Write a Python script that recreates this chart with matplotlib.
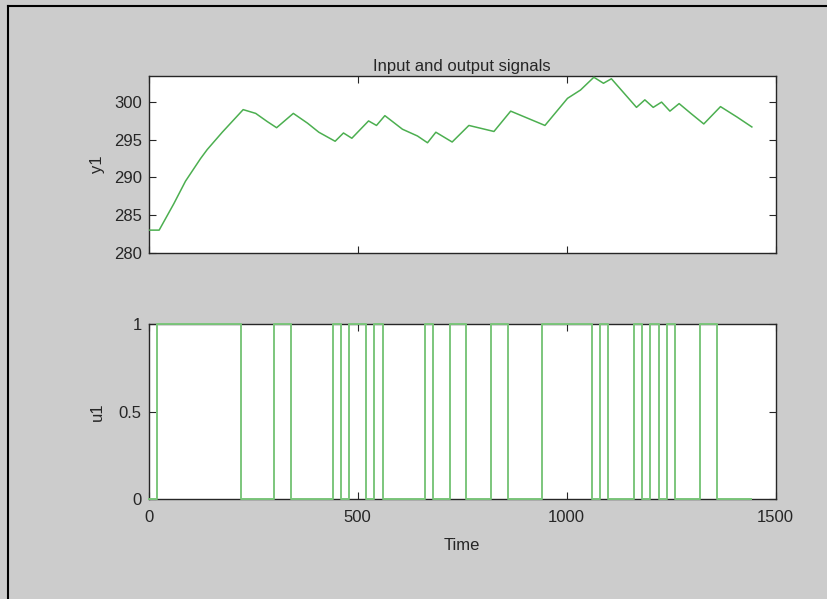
import matplotlib.pyplot as plt
from matplotlib.lines import Line2D

# Output y1 (breakpoints)
t_y = [2, 25, 60, 88, 124, 140, 176, 226, 256, 284, 306, 346, 380, 407, 446,
       466, 486, 526, 545, 565, 607, 643, 667, 687, 726, 766, 826, 866, 948,
       1002, 1033, 1065, 1088, 1107, 1137, 1167, 1187, 1207, 1227, 1247, 1269,
       1297, 1328, 1368, 1408, 1443]
y1 = [283.0, 283.0, 286.5, 289.5, 292.5, 293.7, 296.0, 299.0, 298.5, 297.4,
      296.6, 298.5, 297.2, 296.0, 294.8, 295.9, 295.2, 297.5, 296.9, 298.2,
      296.4, 295.5, 294.6, 296.0, 294.7, 296.9, 296.1, 298.8, 296.9, 300.5,
      301.6, 303.3, 302.5, 303.1, 301.2, 299.3, 300.3, 299.3, 300.0, 298.8,
      299.8, 298.5, 297.1, 299.4, 298.0, 296.7]

# Input u1 (switching times and levels, zero-order hold)
t_u = [0, 20, 220, 300, 340, 440, 460, 480, 520, 540, 560, 660, 680, 720, 760,
       820, 860, 940, 1060, 1080, 1100, 1160, 1180, 1200, 1220, 1240, 1260,
       1320, 1360, 1440]
u1 = [0, 1, 0, 1, 0, 1, 0, 1, 0, 1, 0, 1, 0, 1, 0, 1, 0, 1, 0, 1, 0, 1, 0, 1,
      0, 1, 0, 1, 0, 0]

plt.rcParams['font.family'] = ['Liberation Sans', 'DejaVu Sans']
plt.rcParams['font.size'] = 12

fig = plt.figure(figsize=(8.28, 5.99), dpi=100, facecolor='#cccccc')
ax1 = fig.add_axes([0.1796, 0.5781, 0.7572, 0.2942])
ax2 = fig.add_axes([0.1796, 0.1664, 0.7572, 0.2922])

# screenshot frame on left / top
fig.add_artist(Line2D([0.0095, 0.0095], [0, 0.99], color='black', lw=1.5,
                      transform=fig.transFigure))
fig.add_artist(Line2D([0.0095, 1.0], [0.99, 0.99], color='black', lw=1.5,
                      transform=fig.transFigure))

ax1.plot(t_y, y1, color='#4caf50', lw=1.1, zorder=3)
ax1.set_xlim(0, 1500)
ax1.set_ylim(280, 303.4)
ax1.set_yticks([280, 285, 290, 295, 300])
ax1.set_xticks([0, 500, 1000, 1500])
ax1.set_xticklabels([])
ax1.set_ylabel('y1', labelpad=4)
ax1.set_title('Input and output signals', fontsize=12, pad=4, color='#262626')

ax2.step(t_u, u1, where='post', color='#7cc67c', lw=1.4, zorder=3,
         clip_on=False)
ax2.set_xlim(0, 1500)
ax2.set_ylim(0, 1)
ax2.set_yticks([0, 0.5, 1])
ax2.set_yticklabels(['0', '0.5', '1'])
ax2.set_xticks([0, 500, 1000, 1500])
ax2.set_xlabel('Time', labelpad=9, color='#262626')
ax2.set_ylabel('u1', labelpad=4)

for ax in (ax1, ax2):
    ax.set_facecolor('white')
    for s in ax.spines.values():
        s.set_color('#262626')
        s.set_linewidth(1.0)
    ax.tick_params(direction='in', length=5, top=True, right=True,
                   width=0.8, colors='#262626', labelsize=12)
    ax.tick_params(axis='x', pad=8)
    ax.tick_params(axis='y', pad=5)
    ax.yaxis.set_label_coords(-0.07, 0.5)
    ax.yaxis.label.set_color('#262626')

fig.savefig('out.png', dpi=100, facecolor=fig.get_facecolor())
